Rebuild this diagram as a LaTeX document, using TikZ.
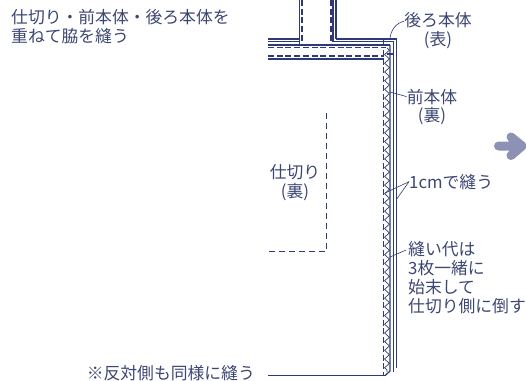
\documentclass[tikz,border=0pt]{standalone}
\usepackage{fontspec}
\usepackage{xcolor}
\usepackage{tikz}
\usetikzlibrary{decorations.pathmorphing}
\setmainfont{Noto Sans CJK JP}
\definecolor{seamblue}{HTML}{2E3A78}
\definecolor{labelblue}{HTML}{3C4673}
\definecolor{arrowblue}{HTML}{8D92B5}
\tikzset{
  edge/.style={draw=seamblue,line width=1.2pt},
  stitch/.style={draw=seamblue,line width=1.2pt,dash pattern=on 6pt off 2.7pt},
  label/.style={text=labelblue,font=\fontsize{16.8}{18.9}\selectfont,inner sep=0pt,align=left},
  leader/.style={draw=seamblue,line width=.6pt}
}
\begin{document}
\begin{tikzpicture}[x=1pt,y=-1pt]
   \useasboundingbox (0,0) rectangle (526,380);
   % top tube
   \draw[edge] (299.5,0) -- (299.5,45);
   \draw[edge] (333,0) -- (333,41.7);
   \draw[edge] (336,0) -- (336,39);
   \draw[stitch] (302,0) -- (302,45);
   \draw[stitch] (331,0) -- (331,45);
   % shoulder band
   \draw[edge] (268,39) -- (299.5,39);
   \draw[edge] (268,41.7) -- (299.5,41.7);
   \draw[edge] (336,39) -- (396.7,39) -- (396.7,368);
   \draw[edge] (333,41.7) -- (393.3,41.7) -- (393.3,372);
   \draw[edge] (268,45) -- (390,45);
   \draw[stitch] (268,47.7) -- (386,47.7);
   \draw[stitch] (268,56) -- (383.5,56);
   \draw[edge] (268,59) -- (383.5,59);
   \draw[edge] (390,45) -- (390,371) -- (385,375.7);
   % corner ticks
   \draw[edge] (383.5,38) -- (383.5,45);
   \draw[edge] (386.5,54) -- (393.3,54);
   % seam allowance
   \draw[stitch] (383.5,50) -- (383.5,375);
   \draw[draw=seamblue,line width=.7pt,decorate,decoration={zigzag,amplitude=2.4pt,segment length=8.7pt}] (387,48) -- (387,372);
   \draw[edge] (268,375.7) -- (385,375.7);
   % dashed guide
   \draw[stitch,dash pattern=on 6pt off 4pt] (326.5,113) -- (326.5,251.7) -- (269,251.7);
   % labels
   \node[label,anchor=west] (topnote) at (11,26.5) {仕切り・前本体・後ろ本体を\\重ねて脇を縫う};
   \node[label,align=center] (lining) at (295,182.5) {仕切り\\(裏)};
   \node[label,align=center] (back) at (438,30.5) {後ろ本体\\(表)};
   \node[label,align=center] (front) at (432,107) {前本体\\(裏)};
   \node[label,anchor=west] (sew) at (409,181.7) {1cmで縫う};
   \node[label,anchor=west] (allow) at (408,277.4) {縫い代は\\3枚一緒に\\始末して\\仕切り側に倒す};
   \node[label,anchor=east] (other) at (255,373) {※反対側も同様に縫う};
   % leaders
   \draw[leader] (back.north west) ++(0,9) .. controls (396,23) and (391,30) .. (390,38);
   \draw[leader] (front.north west) ++(0,8) -- (390,92);
   \coordinate (sewa) at (385,193);
   \coordinate (sewb) at (396.7,199);
   \draw[leader] (sew.west) -- (sewa);
   \draw[leader] (sew.west) -- (sewb);
   \coordinate (allowa) at (390,257);
   \draw[leader] (allow.north west) ++(-2,9) -- (allowa);
   % arrow
   \draw[arrowblue,line width=9pt,line cap=round,line join=round] (498.5,146) -- (522,146) (511,137) -- (522,146) -- (511,155.5);
\end{tikzpicture}
\end{document}
